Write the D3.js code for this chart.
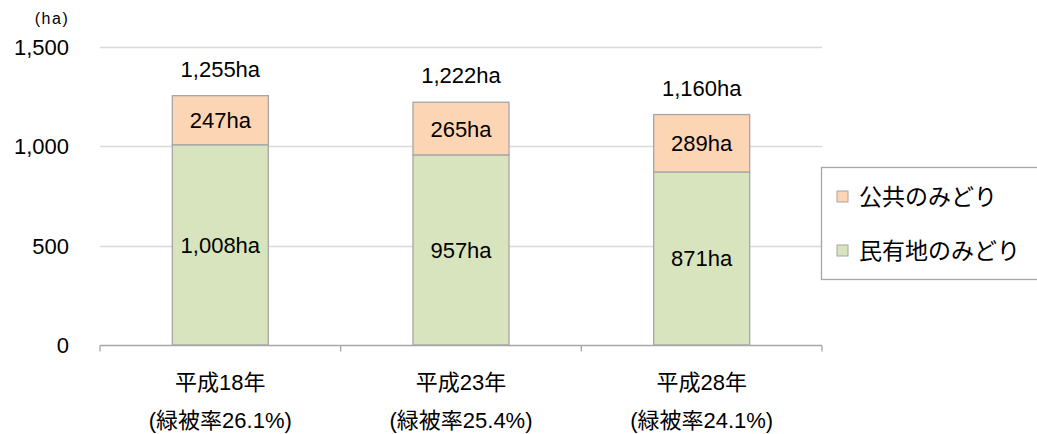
<!DOCTYPE html>
<html>
<head>
<meta charset="utf-8">
<script src="https://d3js.org/d3.v7.min.js"></script>
<style>
  body { margin: 0; background: #fff; }
  text { font-family: "Liberation Sans", Arial, "Noto Sans CJK JP", sans-serif; fill: #000; }
</style>
</head>
<body>
<svg width="1037" height="434"></svg>
<script>
// data
const years = ['平成18年', '平成23年', '平成28年'];
const rates = ['(緑被率26.1%)', '(緑被率25.4%)', '(緑被率24.1%)'];
const privateGreen = [1008, 957, 871];
const publicGreen = [247, 265, 289];
const totals = [1255, 1222, 1160];
const yTicks = [0, 500, 1000, 1500];
const seriesNames = ['公共のみどり', '民有地のみどり'];

const colors = { pub: '#FCD5B5', priv: '#D7E4BD' };
const svg = d3.select('svg');
const plotL = 100, plotR = 822, plotT = 47, plotB = 345;
const fs = '22px';

const fmt = d3.format(',');

const x = d3.scaleBand().domain(d3.range(years.length)).range([plotL, plotR]).paddingInner(0).paddingOuter(0);
const y = d3.scaleLinear().domain([0, 1500]).range([plotB, plotT]);

// gridlines
svg.append('g').selectAll('line').data(yTicks.filter(d => d > 0)).enter().append('line')
  .attr('x1', plotL).attr('x2', plotR)
  .attr('y1', d => Math.round(y(d)) + 0.5).attr('y2', d => Math.round(y(d)) + 0.5)
  .attr('stroke', '#D9D9D9').attr('stroke-width', 1.5);

// y labels
svg.append('g').selectAll('text').data(yTicks).enter().append('text')
  .attr('x', 69).attr('y', d => y(d) + 8)
  .attr('text-anchor', 'end').style('font-size', fs)
  .text(d => fmt(d));
svg.append('text').attr('x', 52).attr('y', 24).attr('text-anchor', 'middle')
  .style('font-size', '16px').style('letter-spacing', '1.5px').text('(ha)');

// stacked bars
const barW = 96;
const stackData = years.map((yr, i) => ({ i: i, priv: privateGreen[i], pub: publicGreen[i] }));
const series = d3.stack().keys(['priv', 'pub'])(stackData);

const groups = svg.selectAll('g.series').data(series).enter().append('g')
  .attr('class', 'series').style('fill', d => colors[d.key]);

groups.selectAll('rect').data(d => d).enter().append('rect')
  .attr('x', d => x(d.data.i) + x.bandwidth() / 2 - barW / 2)
  .attr('y', d => y(d[1]))
  .attr('width', barW)
  .attr('height', d => y(d[0]) - y(d[1]))
  .attr('stroke', '#A6A6A6').attr('stroke-width', 1.3);

// segment labels
groups.selectAll('text').data(d => d).enter().append('text')
  .attr('x', d => x(d.data.i) + x.bandwidth() / 2)
  .attr('y', d => (y(d[0]) + y(d[1])) / 2 + 8)
  .attr('text-anchor', 'middle').style('font-size', fs).style('fill', '#000')
  .text(d => fmt(d[1] - d[0]) + 'ha');

// total labels
svg.append('g').selectAll('text').data(totals).enter().append('text')
  .attr('x', (d, i) => x(i) + x.bandwidth() / 2)
  .attr('y', d => y(d) - 19)
  .attr('text-anchor', 'middle').style('font-size', fs)
  .text(d => fmt(d) + 'ha');

// x axis
const axisY = Math.round(y(0)) + 0.5;
svg.append('line').attr('x1', plotL).attr('x2', plotR).attr('y1', axisY).attr('y2', axisY)
  .attr('stroke', '#A6A6A6').attr('stroke-width', 1.3);
svg.append('g').selectAll('line').data(d3.range(years.length + 1)).enter().append('line')
  .attr('x1', i => i < years.length ? x(i) : plotR)
  .attr('x2', i => i < years.length ? x(i) : plotR)
  .attr('y1', axisY).attr('y2', axisY + 6)
  .attr('stroke', '#A6A6A6').attr('stroke-width', 1.3);

svg.append('g').selectAll('text').data(years).enter().append('text')
  .attr('x', (d, i) => x(i) + x.bandwidth() / 2).attr('y', 390)
  .attr('text-anchor', 'middle').style('font-size', fs).text(d => d);
svg.append('g').selectAll('text').data(rates).enter().append('text')
  .attr('x', (d, i) => x(i) + x.bandwidth() / 2).attr('y', 428)
  .attr('text-anchor', 'middle').style('font-size', fs).text(d => d);

// legend
svg.append('rect').attr('x', 821.5).attr('y', 167.5).attr('width', 230).attr('height', 112)
  .attr('fill', '#fff').attr('stroke', '#A6A6A6').attr('stroke-width', 1.3);
const legKeys = ['pub', 'priv'];
const leg = svg.append('g').selectAll('g').data(seriesNames).enter().append('g')
  .attr('transform', (d, i) => `translate(837, ${197 + i * 54})`);
leg.append('rect').attr('x', 0).attr('y', -6).attr('width', 11).attr('height', 11)
  .attr('fill', (d, i) => colors[legKeys[i]]).attr('stroke', '#A6A6A6').attr('stroke-width', 1);
leg.append('text').attr('x', 22).attr('y', 8).style('font-size', '23px')
  .style('font-family', '"Noto Sans CJK JP", sans-serif').text(d => d);
</script>
</body>
</html>
